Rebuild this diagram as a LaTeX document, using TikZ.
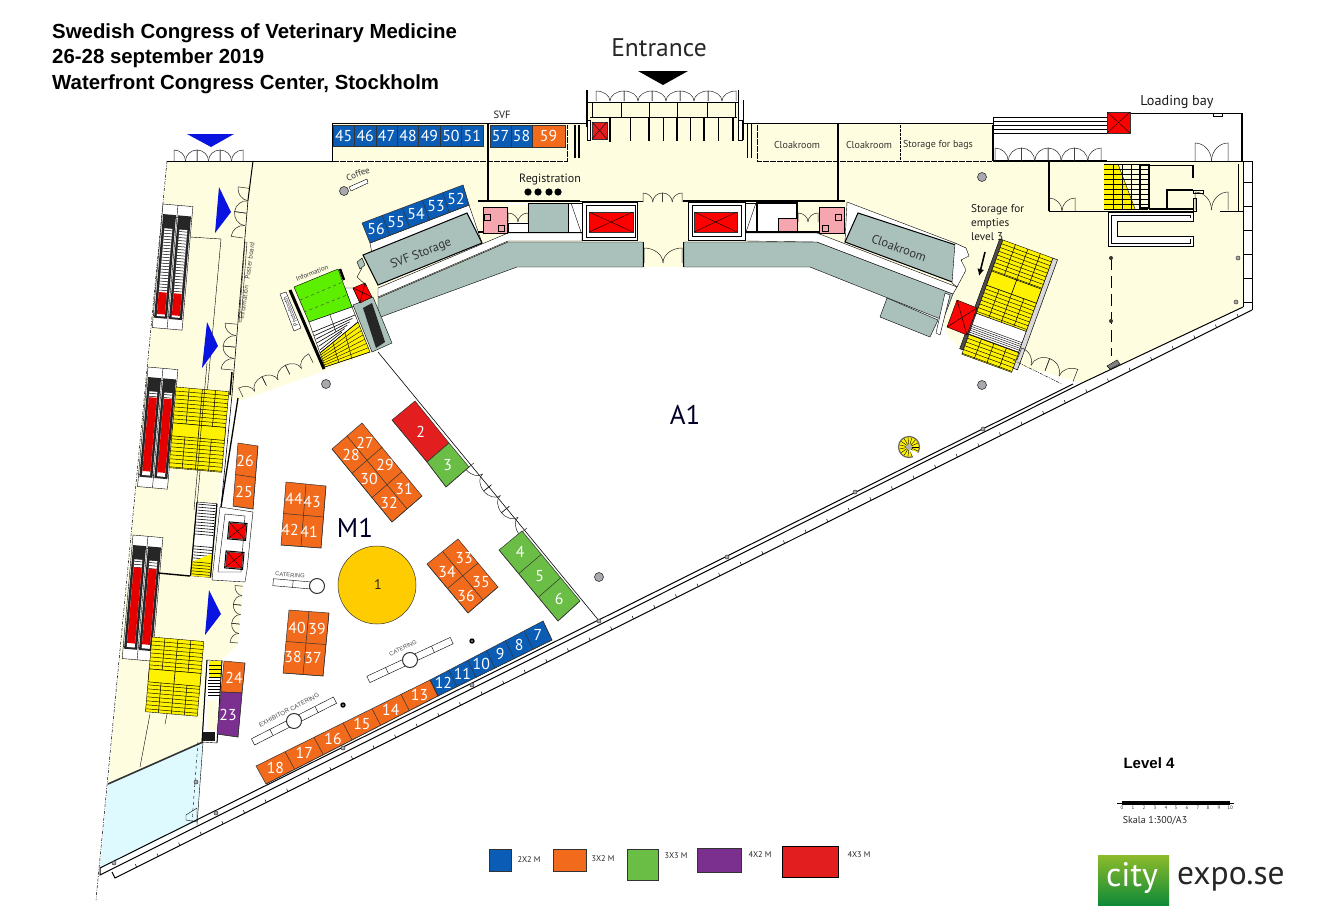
\documentclass[tikz,border=0pt]{standalone}
\usepackage{fontspec}
\setmainfont{Liberation Sans}
\newfontfamily\myr{PT Sans}
\usetikzlibrary{calc,arrows.meta}
\definecolor{cream}{HTML}{FFFDE0}
\definecolor{wallgrey}{HTML}{A9C0BB}
\definecolor{lake}{HTML}{DFFAFF}
\definecolor{bblue}{HTML}{0B5CB5}
\definecolor{borange}{HTML}{F26A1B}
\definecolor{bgreen}{HTML}{6ABD45}
\definecolor{bred}{HTML}{E31E1E}
\definecolor{bpurple}{HTML}{7B2F8E}
\definecolor{styellow}{HTML}{FFF200}
\definecolor{wcpink}{HTML}{F5A6AE}
\definecolor{gold}{HTML}{FFCC00}
\definecolor{infogreen}{HTML}{5CF000}
\definecolor{colgrey}{HTML}{A8A8AE}
\definecolor{arrowblue}{HTML}{0A14E0}
\definecolor{logotop}{HTML}{8DBB2B}
\definecolor{logobot}{HTML}{0E8A37}
\tikzset{
  boothline/.style={draw=black!80!white,line width=.5pt},
  num/.style={font=\myr\fontsize{15.8}{17}\selectfont,text=white,inner sep=0pt},
  wall/.style={draw=black,line width=1pt},
  thickwall/.style={draw=black,line width=2pt},
  thin line/.style={draw=black,line width=.4pt},
  doorline/.style={draw=black!85,line width=.5pt},
  lift/.style={draw=black!80,fill=red,line width=.5pt},
  room/.style={font=\myr\fontsize{10}{11}\selectfont,text=black!80,inner sep=0pt},
  label/.style={font=\myr\fontsize{12}{13}\selectfont,text=black!90,inner sep=0pt},
  title/.style={font=\bfseries\fontsize{20.4}{22}\selectfont,inner sep=0pt,anchor=west},
  big/.style={font=\myr\fontsize{27}{28}\selectfont,text=black!85!blue,inner sep=0pt},
  legend/.style={font=\myr\fontsize{8.3}{9}\selectfont,text=black!85,inner sep=0pt},
  column/.style={draw=black!80,fill=colgrey,line width=.6pt},
  post/.style={draw=black!80,fill=colgrey,line width=.5pt},
}
% filled grid of booths: colour, A, B, C, D, columns, rows
\newcommand\bgrid[7]{%
  \draw[boothline,fill=#1] #2--#3--#4--#5--cycle;
  \foreach \i in {1,...,#6}{\pgfmathsetmacro\tt{\i/#6}\draw[boothline] ($#2!\tt!#3$)--($#5!\tt!#4$);}
  \foreach \i in {1,...,#7}{\pgfmathsetmacro\tt{\i/#7}\draw[boothline] ($#2!\tt!#5$)--($#3!\tt!#4$);}
}
% row of booths with centred labels: colour, A, B, C, D, count, labels
\newcommand\brow[7]{%
  \bgrid{#1}{#2}{#3}{#4}{#5}{#6}{1}
  \foreach \l [count=\i] in {#7}{\pgfmathsetmacro\tt{(\i-.5)/#6}
    \coordinate (pp) at ($#2!\tt!#3$);\coordinate (qq) at ($#5!\tt!#4$);
    \node[num] (b\l) at ($(pp)!.5!(qq)$) {\l};}
}
% n double doors: x,y,rotation,width,height,n
\newcommand\doors[6]{%
  \begin{scope}[shift={(#1,#2)},rotate=#3]
  \foreach \k in {1,...,#6}{
    \pgfmathsetmacro\xa{(\k-1)*#4}\pgfmathsetmacro\xb{\k*#4}\pgfmathsetmacro\xm{(\k-.5)*#4}
    \pgfmathsetmacro\ha{#4*.27}\pgfmathsetmacro\hb{#5*.55}
    \draw[doorline] (\xa,0)--(\xa,-#5) .. controls (\xa+\ha,-#5) and (\xm,-\hb) .. (\xm,0);
    \draw[doorline] (\xb,0)--(\xb,-#5) .. controls (\xb-\ha,-#5) and (\xm,-\hb) .. (\xm,0);
  }
  \end{scope}}
% escalator pair: x,y,height,red start,red end
\newcommand\escal[5]{%
  \begin{scope}[shift={(#1,#2)},rotate=-5]
  \draw[thin line,fill=white] (0,0) rectangle (30,#3);
  \draw[thin line] (15,0)--(15,#3) (0,12)--(30,12) (0,#3-12)--(30,#3-12);
  \foreach \l in {1,16}{
    \fill[black!85] (\l,10) rectangle (\l+13,#3-10);
    \fill[white] (\l+2.5,24) rectangle (\l+10.5,#3-12);
    \foreach \t in {26,29,...,#4}{\draw[black,line width=.5pt] (\l+2.5,\t)--(\l+10.5,\t);}
    \fill[red!90!black] (\l+2.5,#4) rectangle (\l+10.5,#5);
  }
  \end{scope}}
% yellow stair: x,y,rot,w,h,band start,band end
\newcommand\ystair[7]{%
  \begin{scope}[shift={(#1,#2)},rotate=#3]
  \draw[thin line,fill=styellow] (0,0) rectangle (#4,#5);
  \foreach \t in {4,8,...,#5}{\draw[black,line width=.45pt] (0,\t)--(#4,\t);}
  \fill[styellow] (0,#6) rectangle (#4,#7);
  \draw[black,line width=.5pt] (0,#6) rectangle (#4,#7);
  \foreach \f in {.25,.5,.75}{\draw[black,line width=.5pt] (\f*#4,0)--(\f*#4,#6) (\f*#4,#7)--(\f*#4,#5);}
  \draw[black,line width=.6pt] (.5*#4,#6)--(.5*#4,#7);
  \end{scope}}
% catering bar: x,y,rot,left end,right end
\newcommand\cater[5]{%
  \begin{scope}[shift={(#1,#2)},rotate=#3]
  \draw[thin line,fill=white] (#4,-3.5) rectangle (#5,3.5);
  \pgfmathsetmacro\da{#4*.55}\pgfmathsetmacro\db{#5*.55}
  \draw[thin line] (\da,-3.5)--(\da,3.5) (\db,-3.5)--(\db,3.5);
  \draw[black!80,fill=white,line width=1pt] (0,0) circle[radius=7.5];
  \end{scope}}
\begin{document}
\begin{tikzpicture}[x=1pt,y=-1pt]
\useasboundingbox (0,0) rectangle (1317,921);
% floors
\fill[cream] (167,161)--(332,161)--(332,123)--(587,123)--(587,102)--(738,102)--(738,123)--(993,123)--(993,161)--(1243,161)--(1243,307)--(1082,383)--(197,810)--(203,742)--(108,783)--cycle;
\fill[white] (228,405)--(322,372)--(378,350)--(377,317)--(517,267)--(810,267)--(943,320)--(947,335)--(962,350)--(1082,383)--(100,868)--(197,821)--(203,742)--(217,743)--(222,660)--(238,645)--(243,583)--(212,580)--(218,508)--cycle;
\fill[lake] (108,783)--(203,742)--(197,821)--(100,868)--cycle;
% building outline
\draw[black,line width=.5pt,dash pattern=on 3pt off 1.5pt on .8pt off 1.5pt] (167,161)--(96,900);
\draw[wall] (167,161)--(332,161)--(332,123)--(587,123);
\draw[wall] (738,123)--(993,123);
\draw[thickwall] (587,90)--(587,127);
\draw[wall] (738,90)--(738,140);
\draw[wall] (743,100)--(743,140);
\draw[wall] (587,102)--(738,102);
\draw[wall] (993,161)--(993,117)--(1107,117);
\foreach \y in {121,125,129,133}{\draw[thin line] (994,\y)--(1107,\y);}
\draw[wall] (1107,113)--(1242,113);
\draw[thickwall] (1242,113)--(1242,161);
\draw[line width=1.5pt] (993,161)--(1107,161);
\draw[wall] (1107,161)--(1252,161)--(1252,310);
\draw[wall] (1213,113)--(1213,116)--(1222,116)--(1222,113);
\foreach \y in {182,206,230,254,278,302}{\draw[thin line] (1243,\y)--(1252,\y);}
\draw[wall] (1243,161)--(1243,307);
\draw[wall] (1243,307)--(1082,383);
% outer diagonal walls
\draw[wall] (100,868)--(1073,384);
\draw[wall] (100,868)--(100,875)--(1082,383);
\draw[wall] (112,872)--(115,878)--(1252,310);
\foreach \k in {1,...,52}{\pgfmathsetmacro\xx{115+21.6*\k}\pgfmathsetmacro\yy{878-.4996*21.6*\k}
  \draw[black,line width=.5pt] (\xx,\yy)--(\xx-1.2,\yy-3);}
% grey service bands
\draw[thin line,fill=wallgrey] (378,298)--(508,242)--(643,242)--(643,267)--(517,267)--(378,318)--cycle;
\draw[thin line,fill=white] (378,288)--(508,233)--(582,233)--(582,241)--(508,241)--(378,297)--cycle;
\draw[thin line,fill=white] (370,243)--(469,205)--(482,243)--(378,285)--cycle;
\draw[wall,fill=wallgrey] (363,255)--(467,213)--(482,243)--(378,285)--cycle;
\node[room,rotate=22,font=\myr\fontsize{12.5}{13}\selectfont] (svfs) at (421,254) {SVF Storage};
\draw[thin line,fill=wallgrey] (887,298)--(938,320)--(930,337)--(880,317)--cycle;
\draw[thin line,fill=wallgrey] (684,242)--(817,242)--(953,294)--(943,320)--(810,267)--(684,267)--cycle;
\draw[thin line,fill=white] (745,233)--(817,233)--(957,287)--(953,294)--(817,242)--(745,241)--cycle;
\draw[thin line,fill=white] (847,202)--(955,243)--(965,248)--(955,283)--(845,242)--cycle;
\draw[wall,fill=wallgrey] (858,213)--(965,248)--(955,283)--(845,242)--cycle;
\node[room,rotate=-20,font=\myr\fontsize{12.5}{13}\selectfont] (cloak) at (899,248) {Cloakroom};
% core left
\draw[line width=1.5pt] (478,201)--(580,201);
\draw[wall] (580,201)--(643,201);
\draw[line width=1.5pt] (683,201)--(845,201);
\draw[thickwall] (488,123)--(488,201);
\draw[line width=2pt] (838,123)--(838,201);
\draw[thickwall] (478,232)--(580,232);
\fill[white] (507,203) rectangle (528,232);
\fill[cream] (507,205) rectangle (528,222);
\draw[wall,fill=wcpink] (483,207) rectangle (507,233);
\draw[thin line,fill=white] (508,223) rectangle (528,232);
\draw[thin line,fill=wallgrey] (528,203) rectangle (568,232);
\draw[thin line,fill=white] (568,203) rectangle (582,232);
\draw[thin line] (571,203)--(581,232);
\draw[wall,fill=white] (582,202) rectangle (637,240);
\draw[thin line] (586,205) rectangle (635,237);
\draw[lift] (589,212) rectangle (633,232);
\draw[thin line] (589,212)--(633,232) (589,232)--(633,212);
\draw[thin line] (484,214) rectangle (490,220) (498,225) rectangle (504,231);
\doors{508}{222}{0}{20}{9}{1}
% core right
\draw[wall,fill=white] (688,202) rectangle (745,240);
\draw[thin line] (692,205) rectangle (741,236);
\draw[lift] (694,212) rectangle (737,232);
\draw[thin line] (694,212)--(737,232) (694,232)--(737,212);
\draw[thin line,fill=white] (745,203) rectangle (757,232);
\draw[thin line] (756,203)--(746,232);
\draw[line width=1.2pt,fill=white] (757,203) rectangle (797,232);
\fill[cream] (798,203) rectangle (818,232);
\draw[wall,fill=wcpink] (778,218) rectangle (797,232);
\draw[wall,fill=wcpink] (819,207) rectangle (844,233);
\draw[thickwall] (745,232)--(819,232);
\draw[thin line] (835,214) rectangle (841,220) (822,225) rectangle (828,231);
\doors{798}{222}{0}{20}{9}{1}
\draw[wall] (683,242)--(683,267);
\draw[wall] (643,242)--(643,267);
% entrance
\foreach \x in {592,621,649,677,707,735}{\draw[thin line] (\x,102)--(\x,117);}
\draw[thin line] (590,117)--(737,117);
\foreach \x/\w in {630/.5,649/1.1,663/.5,677/1.1,690/.5,704/1.1,718/.5,733/1.1}{\draw[black,line width=\w pt] (\x,118)--(\x,141);}
\draw[wall,fill=white] (587,120) rectangle (590,140);
\draw[wall,fill=white] (738,120) rectangle (742,140);
\draw[lift,fill=bred] (592,122) rectangle (607,139);
\draw[thin line] (592,122)--(607,139) (592,139)--(607,122);
\draw[line width=1.2pt] (610,118)--(610,142);
\doors{596}{101}{0}{28}{10}{5}
\doors{643}{202}{0}{19.5}{9}{2}
\doors{644}{263}{0}{38}{15}{1}
\fill[black] (638,71)--(688,71)--(663,85)--cycle;
% bay fronts
\draw[black,line width=.6pt,dash pattern=on 6pt off 1pt] (333,161)--(567,161)--(567,125);
\draw[black,line width=1.2pt] (575,125)--(575,158) (579,125)--(579,158);
\draw[black,line width=.6pt,dash pattern=on 6pt off 1pt] (757,125)--(757,161)--(992,161);
\draw[black,line width=.6pt,dash pattern=on 3pt off 1pt] (900,125)--(900,161);
\draw[black,line width=.6pt] (747,123)--(747,158) (751,123)--(751,158);
\draw[black,line width=.7pt] (992,125)--(992,161);
\node[room] (c1) at (797,145) {Cloakroom};
\node[room] (c2) at (869,145) {Cloakroom};
\node[room] (c3) at (938,145) {Storage for bags};
% doors along top
\doors{174}{161}{0}{23}{11}{3}
\doors{995}{161}{0}{26.5}{13}{4}
\doors{1195}{161}{0}{33}{18}{1}
\doors{1049}{211}{0}{26}{13}{1}
\doors{1195}{210}{0}{33}{18}{1}
% upper-right rooms
\draw[line width=1.2pt] (1049,161)--(1049,211);
\draw[wall] (1049,211)--(1193,211);
\draw[wall] (1238,164)--(1238,211);
\draw[wall] (1228,211)--(1243,211);
\fill[styellow] (1104,164)--(1118,164)--(1135,209)--(1104,209)--cycle;
\foreach \y in {164,169,...,209}{\draw[thin line] (1104,\y)--(1148,\y);}
\foreach \x in {1113,1122,1131,1140}{\draw[thin line] (\x,164)--(\x,209);}
\draw[thin line] (1118,164)--(1135,209);
\draw[line width=1.5pt] (1140,165) rectangle (1149,208);
\draw[wall] (1149,165)--(1193,165);
\draw[line width=1.3pt] (1193,165)--(1193,178);
\draw[line width=1.5pt] (1167,209)--(1167,190)--(1193,190);
\draw[line width=1.5pt] (1149,209)--(1193,209);
\draw[thin line] (1193,190) rectangle (1203,193);
\draw[thin line] (1193,198) rectangle (1196,211);
\draw[wall,fill=white] (1193,212)--(1108,212)--(1108,246)--(1193,246)--(1193,236)--(1117,236)--(1117,221)--(1193,221)--cycle;
\draw[thin line] (1111,215)--(1190,215)--(1190,218) (1111,215)--(1111,243)--(1190,243)--(1190,239);
\draw[thin line] (1220,211)--(1243,211);
\draw[lift,fill=red] (1107,112) rectangle (1130,133);
\draw[thin line] (1107,112)--(1130,133) (1107,133)--(1130,112);
\draw[black,line width=.7pt,dash pattern=on 12pt off 6pt] (1111,258)--(1111,356);
\fill[black!80] (1111,258) circle[radius=2];
\fill[black!80] (1111,321) circle[radius=2];
\draw[thin line,fill=black!50] (1107,366)--(1117,360)--(1120,364)--(1110,369)--cycle;
\draw[post] (1238,258) circle[radius=2];
\draw[post] (1236,302) circle[radius=2];
% right stairs
\begin{scope}[shift={(1003,240)},rotate=-20]
\draw[black,line width=.4pt,fill=black!70] (-3.5,0) rectangle (0,117);
\draw[black,line width=.5pt,fill=black!15] (53,0) rectangle (58,117);
\end{scope}
\ystair{1003}{240}{-20}{53}{78}{33}{48}
\begin{scope}[shift={(1003,240)},rotate=-20]
\draw[thin line,fill=white] (0,78) rectangle (53,117);
\foreach \t in {90,92,...,100}{\draw[black,line width=.4pt] (0,\t)--(53,\t);}
\end{scope}
\ystair{969}{334.5}{-20}{53}{21}{0}{0}
\draw[thin line,fill=bred!20!red] (957,300)--(977,308)--(967,335)--(947,327)--cycle;
\draw[thin line] (957,300)--(967,335) (977,308)--(947,327);
\draw[thin line,fill=white] (945,293)--(950,295)--(940,335)--(936,333)--cycle;
\draw[black,-{Latex[length=7pt,width=7pt]},line width=1.6pt] (985,252)--(979,276);
\doors{1017}{360}{-21}{30}{13}{2}
\draw[black,line width=.4pt,dash pattern=on 3pt off 1pt on 1pt off 1pt] (1013,360)--(1062,384);
\draw[thin line,fill=white] (955,243)--(966,248)--(969,256)--(961,260)--(966,270)--(957,287)--(952,283)--cycle;
% corridor left structures
\fill[white] (228,400)--(238,400)--(221,507)--(218,507)--cycle;
\draw[line width=1.3pt] (238,398)--(221,507);
\draw[wall] (253,161)--(248,200);
\draw[black,line width=.6pt] (248,200)--(232,395)--(221,507);
\draw[line width=1.5pt] (232,372)--(230,395);
\draw[thin line] (190,237)--(221,239)--(197,505);
\draw[thin line] (245,242)--(247,242)--(241,322)--(239,322)--cycle;
\node[rotate=82,font=\myr\fontsize{6.8}{7}\selectfont,text=black!75,inner sep=0pt] (info) at (247,281) {Information\quad Poster board};
\doors{243}{238}{82}{25}{12}{2}
\doors{233}{370}{85}{23}{12}{2}
\doors{243}{397}{26}{26}{10}{3}
\doors{238}{643}{85}{19}{8}{3}
\escal{163}{204}{124}{88}{110}
\escal{148}{367}{120}{30}{104}
\escal{133}{535}{124}{32}{108}
\ystair{176}{387}{-5}{53}{81}{36}{49}
\ystair{152}{637}{-5}{52}{75}{32}{45}
\draw[thin line] (207,363)--(194,510);
\draw[line width=1.4pt] (158,573)--(190,576);
\draw[thin line] (150,714)--(140,767);
\draw[thin line] (191,576)--(195,540);
\draw[thin line] (167,714)--(165,724);
% small stairs at lifts
\begin{scope}[shift={(197,502)},rotate=-5]
\draw[thin line,fill=white] (0,0) rectangle (20,74);
\foreach \t in {2,5,...,32}{\draw[black,line width=.6pt] (1,\t)--(19,\t);}
\foreach \t in {44,47,...,56}{\draw[black,line width=.6pt] (1,\t)--(19,\t);}
\fill[styellow] (0,60)--(20,50)--(20,74)--(0,74)--cycle;
\foreach \t in {60,63,...,72}{\draw[black,line width=.5pt] (1,\t)--(19,\t);}
\draw[line width=1.2pt] (0,0)--(0,74) (20,0)--(20,74);
\end{scope}
\draw[thin line,fill=white] (220,507)--(253,512)--(251,530)--(247,570)--(245,582)--(212,580)--cycle;
\draw[thin line] (225,514)--(245,516)--(241,572)--(218,572)--cycle;
\begin{scope}[shift={(230,523)},rotate=-5]
\draw[lift] (0,0) rectangle (16,15);\draw[thin line] (0,0)--(16,15) (16,0)--(0,15);\draw[black,line width=1pt] (-1,-1) rectangle (17,16);
\end{scope}
\begin{scope}[shift={(227,552)},rotate=-5]
\draw[lift] (0,0) rectangle (16,15);\draw[thin line] (0,0)--(16,15) (16,0)--(0,15);\draw[black,line width=1pt] (-1,-1) rectangle (17,16);
\end{scope}
% small stair near 24
\draw[thin line,fill=white] (207,660)--(222,661)--(217,743)--(202,742)--cycle;
\fill[styellow] (209,661) rectangle (221,678);
\foreach \y in {665,669,...,677}{\draw[thin line] (209,\y)--(221,\y);}
\foreach \y in {680,683,...,695}{\draw[black,line width=.6pt] (208,\y)--(220,\y);}
\fill[cream] (207,700) rectangle (217,730);
\fill[black!90] (202,732) rectangle (215,741);
\draw[line width=1pt] (207,660)--(202,742);
\draw[line width=.8pt] (222,660)--(217,743);
% lake edge
\draw[line width=1.6pt,black!80] (108,784)--(203,742);
\draw[thin line] (203,742)--(197,825);
\draw[black,line width=.4pt,dashed] (198,742)--(192,822);
\draw[post] (196,782) circle[radius=2];
\draw[thin line] (186,815)--(197,808)--(197,822)--(186,820)--cycle;
% information block
\draw[black,line width=3pt] (290,290)--(324,369);
\draw[black,line width=2.5pt] (340,269)--(344,280);
\draw[thin line,fill=white] (345,288)--(353,288)--(360,303)--(352,307)--cycle;
\draw[thin line,fill=infogreen] (294,287)--(338,269)--(352,307)--(309,322)--cycle;
\draw[black!70,line width=.5pt,dashed] (300,300)--(343,282) (304,312)--(347,295);
\draw[thin line,fill=white] (309,322)--(352,307)--(358,322)--(320,353)--cycle;
\draw[thin line] (330,315)--(336,332);
\foreach \k in {0,...,5}{\draw[black,line width=.6pt] ($(313,332)!\k/5!(320,350)$)--($(355,315)!\k/5!(342,332)$);}
\fill[styellow] (320,353)--(358,322)--(370,352)--(325,367)--cycle;
\foreach \k in {0,...,7}{\draw[black,line width=.4pt] ($(320,353)!\k/7!(325,367)$)--($(358,322)!\k/7!(370,352)$);}
\draw[thin line] (320,353)--(358,322)--(370,352)--(325,367)--cycle;
\draw[thin line] (345,333)--(352,359) (333,343)--(339,363);
\draw[thin line,fill=wallgrey] (353,305)--(373,297)--(392,343)--(372,352)--cycle;
\fill[black!85] (363,308)--(372,303)--(385,342)--(376,348)--cycle;
\draw[thin line,fill=red] (353,288)--(365,283)--(372,297)--(360,303)--cycle;
\draw[thin line] (353,288)--(372,297) (365,283)--(360,303);
\draw[thin line,fill=white] (280,294)--(286,292)--(301,328)--(294,331)--cycle;
\node[rotate=112,font=\myr\fontsize{6.2}{6}\selectfont,text=black!80,inner sep=0pt] (photo) at (290.5,311.5) {Photobooth};
\node[rotate=22,font=\myr\fontsize{6.8}{7}\selectfont,text=black!80,inner sep=0pt] (infob) at (312,273) {Information};
\draw[thin line,fill=wallgrey] (357,262)--(362,258)--(365,265)--(360,269)--cycle;
\draw[thin line] (362,268)--(357,277)--(367,286);
% hall partition
\draw[black,line width=.6pt] (378,352)--(600,622);
\doors{527}{528}{129.4}{28}{10}{3}
% coffee
\draw[thin line,fill=white] (349,187)--(367,179)--(368,183)--(351,191)--cycle;
\draw[column] (344,191) circle[radius=4.5];
\node[room,rotate=20,font=\myr\fontsize{9}{9}\selectfont] (cof) at (358,174) {Coffee};
% columns
\draw[column] (326,384) circle[radius=4.5];
\draw[column] (599,577) circle[radius=4.5];
\draw[column] (982,385) circle[radius=4.5];
\draw[column] (982,177) circle[radius=4.5];
\foreach \x/\y in {114/863,216/813,343/748,472/685,599/621,727/557,855/492,983/429}{\draw[post] (\x,\y) circle[radius=2];}
\fill[black] (343,705) circle[radius=2.7];\fill[colgrey] (343,705) circle[radius=1];
\fill[black] (472,641) circle[radius=2.7];\fill[colgrey] (472,641) circle[radius=1];
% spiral stair
\draw[black!60,fill=styellow,line width=1.2pt] (909,447) circle[radius=10.5];
\foreach \a in {0,24,...,336}{\draw[black,line width=.4pt] (909,447)--++(\a:9.5);}
\fill[white] (909,449)--(921,454)--(915,460)--cycle;
\fill[white!70!black] (909,447) circle[radius=3];
% blue arrows
\fill[arrowblue] (187,134)--(234,134)--(211,147)--cycle;
\fill[arrowblue] (219,187)--(231,212)--(215,233)--cycle;
\fill[arrowblue] (207,322)--(218,346)--(202,368)--cycle;
\fill[arrowblue] (209,590)--(221,614)--(205,635)--cycle;
% booths
\brow{bblue}{(333,125)}{(483,125)}{(483,146)}{(333,146)}{7}{45,46,47,48,49,50,51}
\brow{bblue}{(490,125)}{(532,125)}{(532,147)}{(490,147)}{2}{57,58}
\brow{borange}{(532,125)}{(565,125)}{(565,147)}{(532,147)}{1}{59}
\brow{bblue}{(362,223)}{(463,185)}{(469,205)}{(370,243)}{5}{56,55,54,53,52}
\brow{bblue}{(430,680)}{(543,621)}{(552,640)}{(438,696)}{6}{12,11,10,9,8,7}
\brow{borange}{(256,766)}{(430,680)}{(438,696)}{(266,784)}{6}{18,17,16,15,14,13}
\brow{bred}{(415,401)}{(449,443)}{(427,462)}{(392,420)}{1}{2}
\brow{bgreen}{(449,443)}{(469,467)}{(446,487)}{(427,462)}{1}{3}
\brow{bgreen}{(522,531)}{(580,601)}{(558,621)}{(499,550)}{3}{4,5,6}
\bgrid{borange}{(362,423)}{(422,496)}{(392,522)}{(332,449)}{3}{2}
\bgrid{borange}{(458,539)}{(498,587)}{(468,613)}{(427,564)}{2}{2}
\bgrid{borange}{(286,482)}{(326,486)}{(321,548)}{(281,545)}{2}{2}
\bgrid{borange}{(289,610)}{(329,613)}{(323,676)}{(283,673)}{2}{2}
\bgrid{borange}{(238,443)}{(258,446)}{(253,509)}{(233,506)}{1}{2}
\bgrid{borange}{(224,661)}{(245,663)}{(242,693)}{(221,692)}{1}{1}
\bgrid{bpurple}{(221,692)}{(242,693)}{(238,737)}{(217,734)}{1}{1}
\foreach \l/\x/\y in {27/365/443,28/351/455,29/385/465,30/369/479,31/404/489,32/389/503,33/464/558,34/447/572,35/481/582,36/466/596,44/294/499,43/312/502,42/290/530,41/309/532,40/297/628,39/317/629,38/293/657,37/313/658,26/245/461,25/244/492,24/234/678,23/228/715}{\node[num] (b\l) at (\x,\y) {\l};}
\draw[boothline,fill=gold] (377,585) circle[radius=39];
\node[inner sep=0pt,font=\myr\fontsize{14}{15}\selectfont,text=black!85] (b1) at (378,585) {1};
% catering
\cater{317}{586}{-5}{-44}{-7}
\cater{410}{660}{25}{-46}{46}
\cater{294}{721}{27}{-46}{46}
\node[font=\fontsize{5.8}{6}\selectfont,text=black!70,rotate=-5,inner sep=0pt] (cat1) at (290,575) {CATERING};
\node[font=\fontsize{5.8}{6}\selectfont,text=black!70,rotate=25,inner sep=0pt] (cat2) at (403,648) {CATERING};
\node[font=\fontsize{6.2}{6}\selectfont,text=black!70,rotate=27,inner sep=0pt] (cat3) at (289,710) {EXHIBITOR CATERING};
% labels
\node[title] (t1) at (52,33.5) {Swedish Congress of Veterinary Medicine};
\node[title] (t2) at (52,58.5) {26-28 september 2019};
\node[title] (t3) at (52,84) {Waterfront Congress Center, Stockholm};
\node[font=\myr\fontsize{25.5}{26}\selectfont,text=black!85,inner sep=0pt] (ent) at (659,48) {Entrance};
\node[label,font=\myr\fontsize{10.5}{11}\selectfont] (svf) at (502,115) {SVF};
\node[label,font=\myr\fontsize{12}{13}\selectfont] (reg) at (550,180) {Registration};
\foreach \x in {528,538,549,558}{\fill[black] (\x,192) circle[radius=3.6];}
\node[label,font=\myr\fontsize{14.2}{15}\selectfont] (load) at (1177,102) {Loading bay};
\node[label,font=\myr\fontsize{11.2}{14}\selectfont,align=left,anchor=north west] (emp) at (971,204) {Storage for\\empties\\level 3};
\node[big] (a1) at (685,415) {A1};
\node[big] (m1) at (355,528) {M1};
\node[font=\bfseries\fontsize{15}{15}\selectfont,inner sep=0pt] (lvl) at (1149,763) {Level 4};
% scale
\fill[black] (1122,801) rectangle (1230,805);
\foreach \x in {1124,1135,...,1224}{\draw[white,line width=.6pt] (\x,803)--(\x+7,803);}
\draw[thin line] (1117,803)--(1234,803);
\foreach \n/\x in {0/1122,1/1133,2/1144,3/1155,4/1166,5/1176,6/1187,7/1198,8/1208,9/1219,10/1230}{\node[font=\myr\fontsize{5}{5}\selectfont,text=black!80,inner sep=0pt] (s\n) at (\x,808) {\n};}
\node[font=\myr\fontsize{10}{10}\selectfont,text=black!85,inner sep=0pt] (ska) at (1155,821) {Skala 1:300/A3};
% legend
\draw[boothline,fill=bblue] (489,849) rectangle (511,871);
\node[legend] (l1) at (529,860) {2X2 M};
\draw[boothline,fill=borange] (553,849) rectangle (586,871);
\node[legend] (l2) at (603,859) {3X2 M};
\draw[boothline,fill=bgreen] (627,849) rectangle (658,880);
\node[legend] (l3) at (676,856) {3X3 M};
\draw[boothline,fill=bpurple] (697,848) rectangle (741,872);
\node[legend] (l4) at (760,855) {4X2 M};
\draw[black,line width=.7pt,fill=bred] (782,846) rectangle (838,877);
\node[legend] (l5) at (859,855) {4X3 M};
% logo
\shade[top color=logotop,bottom color=logobot] (1098,855) rectangle (1169,905);
\node[font=\myr\fontsize{34}{36}\selectfont,text=white,inner sep=0pt] (city) at (1132,878) {city};
\node[font=\myr\fontsize{33.5}{36}\selectfont,text=black!85,inner sep=0pt,anchor=west] (expo) at (1177,879) {expo.se};
\end{tikzpicture}
\end{document}
